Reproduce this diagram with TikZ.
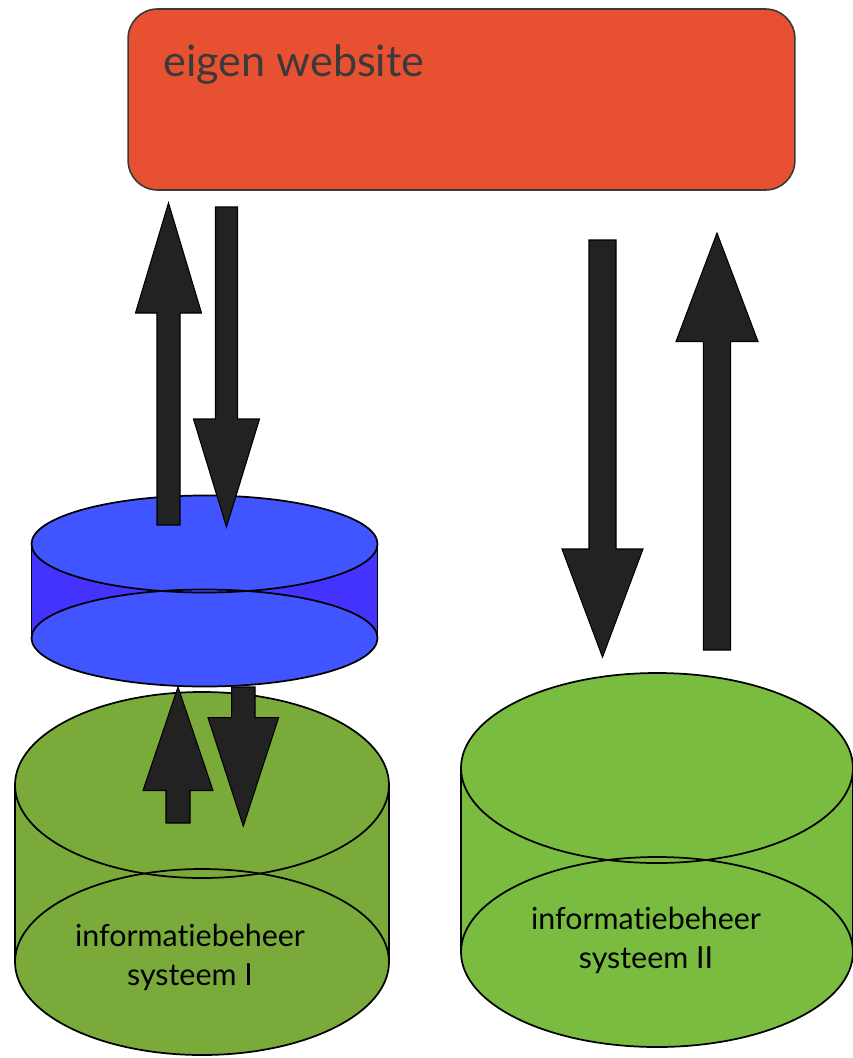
\documentclass[tikz,border=0pt]{standalone}
\usepackage{fontspec}
\setmainfont{Lato}[Ligatures={NoCommon}]
\usepackage{xcolor}
\usetikzlibrary{calc}

\definecolor{webred}{HTML}{E85032}
\definecolor{webedge}{HTML}{3A3A3A}
\definecolor{blueface}{HTML}{4055FF}
\definecolor{blueside}{HTML}{4433FF}
\definecolor{greenI}{HTML}{7AAB3A}
\definecolor{greenII}{HTML}{79BC40}
\definecolor{arrowgray}{HTML}{222222}

% drum: centre x, top y, bottom y, x radius, y radius, face colour, side colour
\newcommand{\drum}[7]{%
  \fill[#7] (#1-#4,#2) rectangle (#1+#4,#3);
  \fill[#6] (#1,#3) ellipse [x radius=#4, y radius=#5];
  \fill[#6] (#1,#2) ellipse [x radius=#4, y radius=#5];
  \draw[cyl] (#1,#3) ellipse [x radius=#4, y radius=#5];
  \draw[cyl] (#1,#2) ellipse [x radius=#4, y radius=#5];
  \draw[cyl] (#1-#4,#2) -- (#1-#4,#3) (#1+#4,#2) -- (#1+#4,#3);
}
% block arrow: tail, tip, shaft half width, head half width, head length (signed)
\newcommand{\blockarr}[5]{%
  \filldraw[blockarrow] ($(#1)+(-#3,0)$) -- ($(#2)+(-#3,#5)$) -- ($(#2)+(-#4,#5)$)
    -- (#2) -- ($(#2)+(#4,#5)$) -- ($(#2)+(#3,#5)$) -- ($(#1)+(#3,0)$) -- cycle;
}

\begin{document}
\begin{tikzpicture}[
  x = 0.75pt, y = -0.75pt, % one unit is one pixel, y goes down
  line join = round
  ]

  \tikzstyle{cyl}=[draw = black, line width = 1.3pt]
  \tikzstyle{blockarrow}=[fill = arrowgray, draw = black, line width = 0.8pt, line join = miter]
  \tikzstyle{label}=[align = center, inner sep = 0pt, text = black,
                     font = \fontsize{22.8}{29.25}\selectfont]

\useasboundingbox (0,0) rectangle (853,1058);

\node[draw=webedge, fill=webred, line width=1.2pt, rounded corners=22pt,
      minimum width=500pt, minimum height=135.75pt] (W) at (461.5,99.5) {};
\node[anchor=base west, inner sep=0pt, text=webedge,
      font=\fontsize{32.4}{38}\selectfont] (Wt) at (163,76) {eigen website};

\drum{202}{785}{962}{187}{93}{greenI}{greenI}
\drum{657}{768}{952}{196}{95}{greenII}{greenII}
\drum{204.5}{544}{638}{173}{48.5}{blueface}{blueside}

\node[label] (S1) at (190,957) {informatiebeheer\\systeem I};
\node[label] (S2) at (646,940) {informatiebeheer\\systeem II};

\coordinate (A1) at (168.5,525); \coordinate (A1e) at (168.5,203);
\coordinate (A2) at (226.5,207); \coordinate (A2e) at (226.5,527);
\coordinate (A3) at (602.5,240); \coordinate (A3e) at (602.5,657);
\coordinate (A4) at (717,650);   \coordinate (A4e) at (717,233);
\coordinate (A5) at (178,823);   \coordinate (A5e) at (178,687);
\coordinate (A6) at (243.3,687); \coordinate (A6e) at (243.3,826);

\blockarr{A1}{A1e}{11.5}{33}{110}
\blockarr{A2}{A2e}{11}{33}{-108}
\blockarr{A3}{A3e}{13.5}{40.5}{-108}
\blockarr{A4}{A4e}{13.7}{41}{108.5}
\blockarr{A5}{A5e}{12}{35}{103.5}
\blockarr{A6}{A6e}{11.7}{35.3}{-108.3}
\end{tikzpicture}
\end{document}
